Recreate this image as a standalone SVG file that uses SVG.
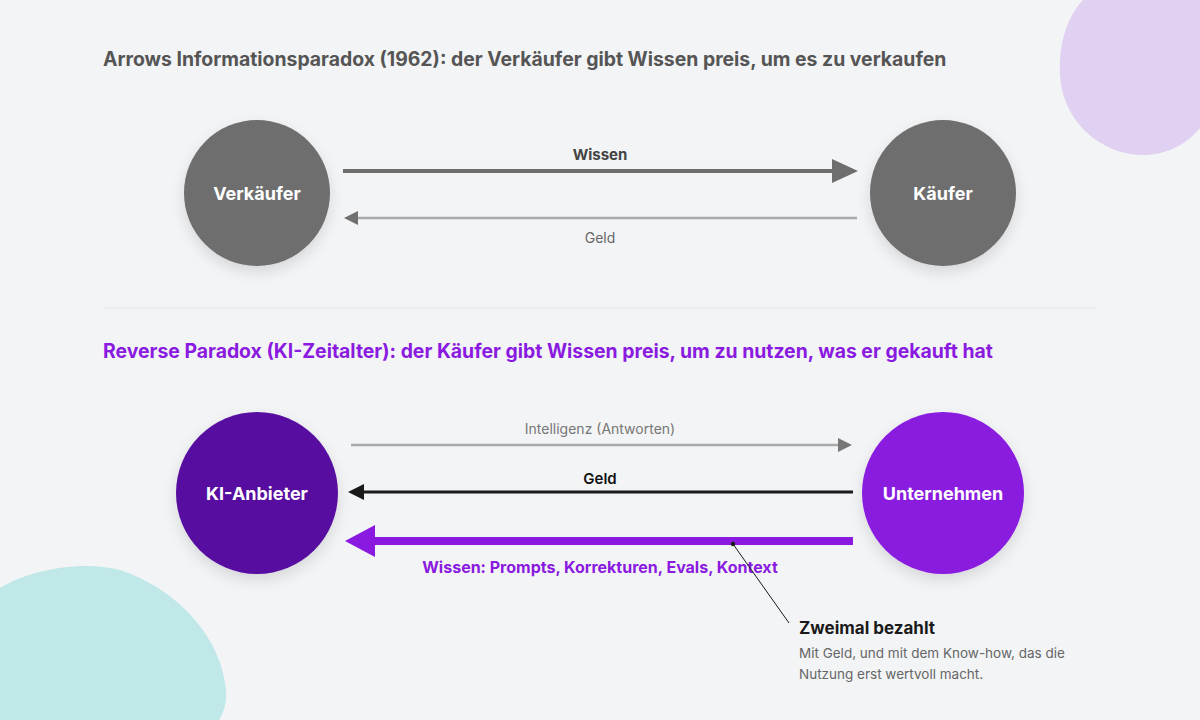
<svg xmlns="http://www.w3.org/2000/svg" width="1200" height="720" viewBox="0 0 1200 720">
<style>
text{font-family:Inter,"Liberation Sans",Arial,sans-serif}
.title{font-size:19.4px;font-weight:700}
.node{font-size:18px;font-weight:700;fill:#ffffff;text-anchor:middle}
.lbl{text-anchor:middle}
</style>
<defs>
<filter id="sh" x="-30%" y="-30%" width="160%" height="160%">
<feDropShadow dx="0" dy="6" stdDeviation="7" flood-color="#000" flood-opacity="0.12"/>
</filter>
</defs>
<rect width="1200" height="720" fill="#f3f4f6"/>
<path d="M1083,0 C1062,22 1056,60 1062,90 C1072,132 1110,156 1145,155 C1172,154 1190,140 1200,128 L1200,0 Z" fill="#e0d0f1"/>
<path d="M0,588 C30,570 80,560 120,570 C180,590 222,640 226,690 C227,702 224,712 219,720 L0,720 Z" fill="#c1e8e8"/>

<text class="title" x="103" y="66" fill="#555555">Arrows Informationsparadox (1962): der Verkäufer gibt Wissen preis, um es zu verkaufen</text>
<line x1="103" y1="308" x2="1097" y2="308" stroke="#e3e3e8" stroke-width="1"/>
<text class="title" x="103" y="358" fill="#8a1ae0">Reverse Paradox (KI-Zeitalter): der Käufer gibt Wissen preis, um zu nutzen, was er gekauft hat</text>

<g id="connectors">
<g id="c-wissen-top">
<line x1="343" y1="171" x2="834" y2="171" stroke="#6e6e6e" stroke-width="4"/>
<polygon points="858,171 832,159 832,183" fill="#6e6e6e"/>
<text class="lbl" x="600" y="160" font-size="15" font-weight="700" fill="#444444">Wissen</text>
</g>
<g id="c-geld-top">
<line x1="857" y1="218" x2="356" y2="218" stroke="#aaaaaa" stroke-width="2.5"/>
<polygon points="344,218 358,211 358,225" fill="#707070"/>
<text class="lbl" x="600" y="243" font-size="14" fill="#666666">Geld</text>
</g>
<g id="c-intelligenz">
<line x1="351" y1="445" x2="840" y2="445" stroke="#aaaaaa" stroke-width="2.5"/>
<polygon points="852,445 838,438 838,452" fill="#777777"/>
<text class="lbl" x="600" y="434" font-size="14" fill="#777777">Intelligenz (Antworten)</text>
</g>
<g id="c-geld-bottom">
<line x1="853" y1="492" x2="360" y2="492" stroke="#1a1a1a" stroke-width="3"/>
<polygon points="348,492 364,484 364,500" fill="#1a1a1a"/>
<text class="lbl" x="600" y="484" font-size="15" font-weight="600" fill="#111111">Geld</text>
</g>
<g id="c-wissen-bottom">
<line x1="853" y1="541" x2="372" y2="541" stroke="#8a1ae0" stroke-width="8"/>
<polygon points="345,541 375,525 375,557" fill="#8a1ae0"/>
<text class="lbl" x="600" y="573" font-size="16" font-weight="700" fill="#8a1ae0">Wissen: Prompts, Korrekturen, Evals, Kontext</text>
</g>
<g id="c-callout">
<line x1="733" y1="544" x2="789" y2="623" stroke="#1a1a1a" stroke-width="1"/>
<circle cx="733" cy="544" r="2.2" fill="#1a1a1a"/>
</g>
</g>

<g id="n-verkaeufer">
<circle cx="257" cy="193" r="73" fill="#6e6e6e" filter="url(#sh)"/>
<text class="node" x="257" y="200">Verkäufer</text>
</g>
<g id="n-kaeufer">
<circle cx="943" cy="193" r="73" fill="#6e6e6e" filter="url(#sh)"/>
<text class="node" x="943" y="200">Käufer</text>
</g>
<g id="n-ki-anbieter">
<circle cx="257" cy="493" r="81" fill="#560da0" filter="url(#sh)"/>
<text class="node" x="257" y="500">KI-Anbieter</text>
</g>
<g id="n-unternehmen">
<circle cx="943" cy="493" r="81" fill="#8a1ae0" filter="url(#sh)"/>
<text class="node" x="943" y="500">Unternehmen</text>
</g>

<g id="n-note">
<text x="799" y="634" font-size="17" font-weight="700" fill="#1a1a1a">Zweimal bezahlt</text>
<text x="799" y="658" font-size="13.5" fill="#666666">Mit Geld, und mit dem Know-how, das die</text>
<text x="799" y="679" font-size="13.5" fill="#666666">Nutzung erst wertvoll macht.</text>
</g>
</svg>
